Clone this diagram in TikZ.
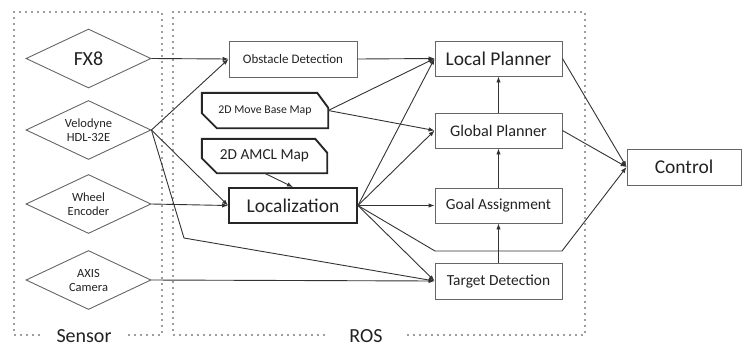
\documentclass[tikz,border=0pt]{standalone}
\usepackage{fontspec}
\setmainfont{Carlito}
\usetikzlibrary{shapes.geometric,arrows.meta}

\definecolor{txt}{HTML}{222222}
\definecolor{edge}{HTML}{666666}
\definecolor{wire}{HTML}{333333}
\definecolor{dots}{HTML}{3A3A3A}

\begin{document}
\begin{tikzpicture}[x=1pt,y=-1pt,
  every node/.style={text=txt},
  sensor/.style={diamond, draw=edge, line width=0.9pt, aspect=2.12,
    minimum width=125pt, minimum height=59pt, inner sep=0pt, align=center,
    font=\fontsize{12.5}{14}\selectfont},
  box/.style={rectangle, draw=edge, line width=0.9pt, minimum width=127pt,
    minimum height=35pt, inner sep=0pt},
  boldbox/.style={box, draw=black!85, line width=1.9pt},
  mapnode/.style={rectangle, minimum width=126pt, minimum height=35pt, inner sep=0pt},
  mapline/.style={draw=black!85, line width=1.9pt},
  arr/.style={draw=wire, line width=0.9pt, -{Latex[length=6pt,width=4.5pt]}},
  group/.style={draw=dots, line width=1.8pt, dash pattern=on 0pt off 6pt, line cap=round},
  grouplabel/.style={fill=white, font=\fontsize{20}{22}\selectfont, inner ysep=2pt}
]
\useasboundingbox (0,0) rectangle (743,349);

% dotted group frames
\draw[group] (14,12) rectangle (162,335);
\draw[group] (173,12) rectangle (585,335);
\node[grouplabel, inner xsep=14pt] (sensorlbl) at (84,336) {Sensor};
\node[grouplabel, inner xsep=22pt] (roslbl) at (366,336) {ROS};

% sensors
\node[sensor, font=\fontsize{20}{22}\selectfont] (fx8) at (88.5,58.5) {FX8};
\node[sensor] (velo) at (88.5,130) {Velodyne\\HDL-32E};
\node[sensor] (wheel) at (88.5,204) {Wheel\\Encoder};
\node[sensor] (axis) at (88.5,280) {AXIS\\Camera};

% ROS modules
\node[box, minimum width=128pt, minimum height=36pt, font=\fontsize{13}{15}\selectfont] (obs) at (293,59) {Obstacle Detection};
\node[boldbox, minimum width=128pt, font=\fontsize{19.5}{22}\selectfont] (loc) at (293,205.5) {Localization};
\node[box, font=\fontsize{19.5}{22}\selectfont] (lp) at (498.5,58.5) {Local Planner};
\node[box, font=\fontsize{16.2}{18}\selectfont] (gp) at (498.5,130.5) {Global Planner};
\node[box, font=\fontsize{15.4}{18}\selectfont] (goal) at (498.5,205.5) {Goal Assignment};
\node[box, minimum height=36pt, font=\fontsize{15.4}{18}\selectfont] (tgt) at (498.5,281) {Target Detection};
\node[box, minimum width=114pt, minimum height=36pt, font=\fontsize{19.5}{22}\selectfont] (ctl) at (684,167) {Control};

% maps
\node[mapnode, font=\fontsize{11.8}{14}\selectfont] (mbm) at (265,110.5) {2D Move Base Map};
\node[mapnode, minimum width=125pt, minimum height=34pt, font=\fontsize{15.3}{18}\selectfont] (amcl) at (264.5,156) {2D AMCL Map};
\draw[mapline] (mbm.north west) -- ([xshift=-11pt]mbm.north east) -- ([yshift=-15pt]mbm.north east)
  -- (mbm.south east) -- ([xshift=15pt]mbm.south west) -- ([yshift=15pt]mbm.south west) -- cycle;
\draw[mapline] (amcl.north west) -- ([xshift=-12pt]amcl.north east) -- ([yshift=-14pt]amcl.north east)
  -- (amcl.south east) -- ([xshift=15pt]amcl.south west) -- ([yshift=15pt]amcl.south west) -- cycle;

% bend points
\coordinate (vbend) at (184,238);
\coordinate (lbendA) at (435,251);
\coordinate (lbendB) at (562,251);

% sensor inputs
\draw[arr] (fx8.east) -- (obs.west);
\draw[arr] (velo.east) -- (obs.west);
\draw[arr] (velo.east) -- (loc.west);
\draw[arr] (velo.east) -- (vbend) -- (tgt.west);
\draw[arr] (wheel.east) -- (loc.west);
\draw[arr] (axis.east) -- (tgt.west);

% maps
\draw[arr] (mbm.east) -- (lp.west);
\draw[arr] (mbm.east) -- (gp.west);
\draw[arr] (amcl.south) -- (loc.north);

% obstacle detection and localization outputs
\draw[arr] (obs.east) -- (lp.west);
\draw[arr] (loc.east) -- (lp.west);
\draw[arr] (loc.east) -- (gp.west);
\draw[arr] (loc.east) -- (goal.west);
\draw[arr] (loc.east) -- (tgt.west);
\draw[arr] (loc.east) -- (lbendA) -- (lbendB) -- (ctl.west);

% planning chain
\draw[arr] (tgt.north) -- (goal.south);
\draw[arr] (goal.north) -- (gp.south);
\draw[arr] (gp.north) -- (lp.south);
\draw[arr] (lp.east) -- (ctl.west);
\draw[arr] (gp.east) -- (ctl.west);
\end{tikzpicture}
\end{document}
